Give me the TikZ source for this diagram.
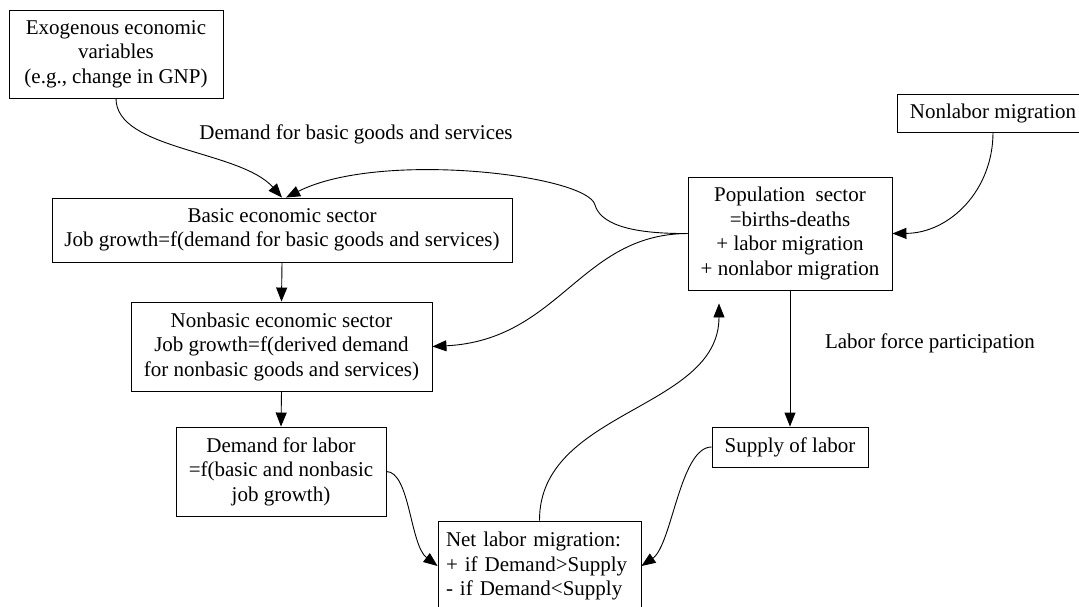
\documentclass[tikz,border=0pt]{standalone}
\usepackage{fontspec}
\setmainfont{Liberation Serif}
\usetikzlibrary{arrows.meta, positioning}

\tikzset{
    box/.style={draw, line width=0.9pt, align=center, inner sep=0pt,
        font=\fontsize{21}{24.5}\selectfont},
    lbl/.style={inner sep=0pt, font=\fontsize{21}{24.5}\selectfont},
    arr/.style={line width=0.9pt, -{Triangle[length=14pt,width=11pt]}},
}

\begin{document}
\begin{tikzpicture}[x=1pt, y=-1pt]
    \useasboundingbox (0,0) rectangle (1079,606);

    % boxes
    \node[box, minimum width=214pt, minimum height=88pt] (exo) at (116,54)
        {Exogenous economic\\variables\\(e.g., change in GNP)};
    \node[box, minimum width=460pt, minimum height=64pt] (basic) at (282,230)
        {Basic economic sector\\Job growth=f(demand for basic goods and services)};
    \node[box, minimum width=301pt, minimum height=89pt] (nonbasic) at (281.5,346.5)
        {Nonbasic economic sector\\Job growth=f(derived demand\\for nonbasic goods and services)};
    \node[box, minimum width=210pt, minimum height=89pt] (dlabor) at (281,471.5)
        {Demand for labor\\=f(basic and nonbasic\\job growth)};
    \node[box, align=left, text width=187pt, inner xsep=8pt, minimum height=90pt] (net) at (539.5,566)
        {Net labor migration:\\+ if Demand>Supply\\- if Demand<Supply};
    \node[box, minimum width=204pt, minimum height=113pt] (pop) at (790,233.5)
        {Population~ sector\\=births-deaths\\+ labor migration\\+ nonlabor migration};
    \node[box, minimum width=192pt, minimum height=38pt] (nonlabor) at (993,113)
        {Nonlabor migration};
    \node[box, minimum width=156pt, minimum height=40pt] (supply) at (790,447)
        {Supply of labor};

    % labels
    \node[lbl] (lbasic) at (356,134) {Demand for basic goods and services};
    \node[lbl] (lforce) at (930,343) {Labor force participation};

    % straight links
    \draw[arr] (basic.south) -- (nonbasic.north);
    \draw[arr] (nonbasic.south) -- (dlabor.north);
    \draw[arr] (pop.south) -- (supply.north);

    % curved links
    \draw[arr] (exo.south) .. controls (116,150) and (240,150) .. (basic.north);
    \draw[arr] (pop.west) .. controls (625,234) and (600,222) .. (595,205)
        .. controls (588,175) and (380,150) .. ([xshift=4pt]basic.north);
    \draw[arr] (pop.west) .. controls (580,234) and (560,340) .. (nonbasic.east);
    \draw[arr] (nonlabor.south) .. controls (993,190) and (950,233) .. (pop.east);
    \draw[arr] (dlabor.east) .. controls (410,472) and (410,545) .. (net.west);
    \draw[arr] (supply.west) .. controls (680,447) and (672,545) .. (net.east);
    \draw[arr] (net.north) .. controls (539,410) and (719,410) .. ([xshift=-71pt,yshift=-13pt]pop.south);
\end{tikzpicture}
\end{document}
